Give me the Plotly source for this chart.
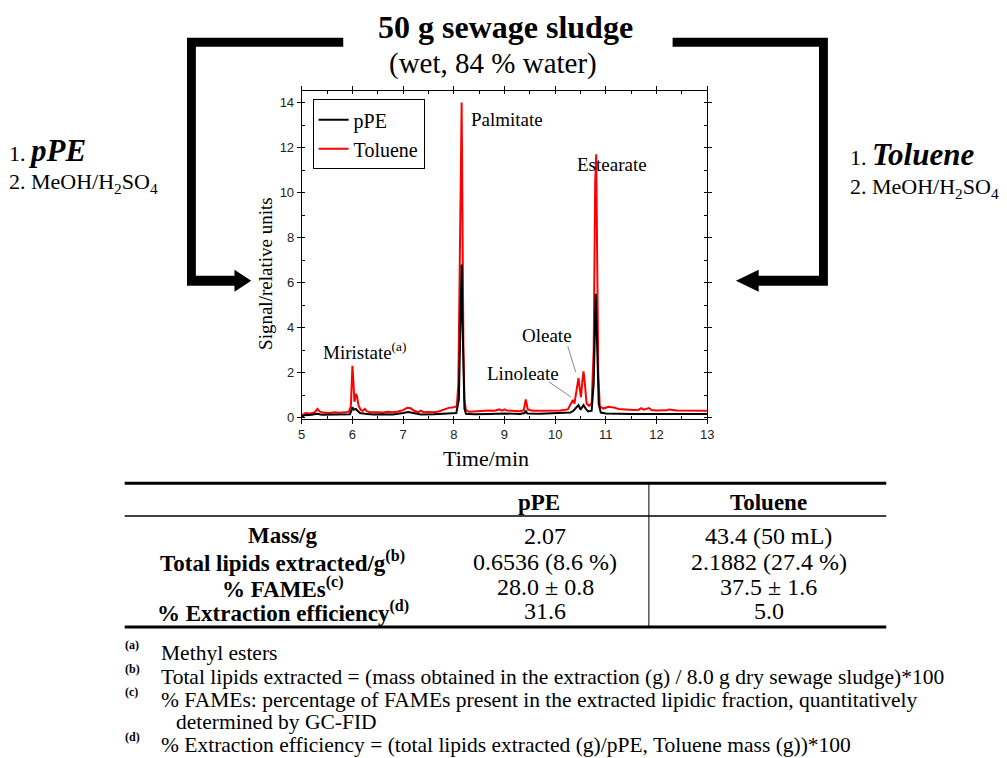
import plotly.graph_objects as go

W, H = 1007, 758

# ---------------- data ----------------
toluene_t = [5.00, 5.03, 5.08, 5.15, 5.22, 5.27, 5.31, 5.35, 5.42, 5.55, 5.65, 5.75, 5.85, 5.93, 5.97,
             6.00, 6.02, 6.04, 6.07, 6.09, 6.12, 6.16, 6.20, 6.25, 6.28, 6.35, 6.5, 6.6, 6.7, 6.8, 6.9,
             7.0, 7.08, 7.15, 7.22, 7.3, 7.35, 7.4, 7.5, 7.6, 7.7, 7.8, 7.9, 8.0, 8.06, 8.09, 8.11,
             8.125, 8.14, 8.155, 8.17, 8.19, 8.21, 8.24, 8.3, 8.4, 8.5, 8.6, 8.7, 8.8, 8.9, 8.95, 9.0,
             9.05, 9.15, 9.3, 9.38, 9.42, 9.46, 9.55, 9.7, 9.9, 10.1, 10.25, 10.3, 10.35, 10.38, 10.43,
             10.46, 10.49, 10.51, 10.54, 10.56, 10.59, 10.62, 10.67, 10.72, 10.76, 10.79, 10.81, 10.83,
             10.85, 10.88, 10.95, 11.05, 11.15, 11.25, 11.4, 11.55, 11.65, 11.7, 11.75, 11.85, 11.9,
             12.0, 12.2, 12.25, 12.4, 12.6, 12.8, 13.0]
toluene_y = [0.05, 0.14, 0.2, 0.18, 0.2, 0.26, 0.38, 0.27, 0.22, 0.2, 0.23, 0.21, 0.23, 0.26, 0.5,
             2.3, 1.6, 0.7, 1.05, 0.95, 0.55, 0.35, 0.3, 0.38, 0.28, 0.24, 0.24, 0.22, 0.26, 0.24, 0.27,
             0.33, 0.43, 0.41, 0.3, 0.24, 0.31, 0.24, 0.25, 0.24, 0.27, 0.36, 0.43, 0.46, 0.5, 1.5, 6.0,
             10.8, 11.0, 14.0, 9.0, 3.0, 0.8, 0.32, 0.26, 0.28, 0.3, 0.3, 0.31, 0.3, 0.36, 0.31, 0.36,
             0.31, 0.3, 0.28, 0.32, 0.8, 0.36, 0.3, 0.3, 0.31, 0.31, 0.36, 0.55, 0.78, 0.62, 1.4,
             1.75, 1.2, 0.9, 1.7, 2.05, 1.4, 0.62, 0.52, 0.62, 3.0, 10.5, 11.7, 8.0,
             2.0, 0.5, 0.4, 0.48, 0.45, 0.38, 0.35, 0.33, 0.35, 0.42, 0.35, 0.42, 0.33,
             0.31, 0.32, 0.36, 0.31, 0.31, 0.29, 0.3]

ppe_t = [5.00, 5.05, 5.2, 5.3, 5.4, 5.6, 5.8, 5.95, 5.98, 6.00, 6.03, 6.07, 6.1, 6.15, 6.25, 6.4, 6.6,
         6.8, 7.0, 7.1, 7.2, 7.35, 7.6, 7.9, 8.05, 8.1, 8.12, 8.14, 8.155, 8.17, 8.19, 8.21, 8.24,
         8.4, 8.7, 9.0, 9.3, 9.4, 9.42, 9.45, 9.7, 10.0, 10.3, 10.36, 10.42, 10.46, 10.5, 10.56,
         10.6, 10.65, 10.72, 10.76, 10.8, 10.83, 10.86, 10.9, 11.0, 11.5, 12.0, 12.5, 13.0]
ppe_y = [0.02, 0.1, 0.12, 0.17, 0.12, 0.12, 0.14, 0.15, 0.3, 0.45, 0.35, 0.38, 0.3, 0.2, 0.17, 0.14, 0.15,
         0.14, 0.2, 0.24, 0.2, 0.14, 0.15, 0.17, 0.2, 0.8, 3.5, 5.8, 6.8, 4.5, 1.5, 0.4, 0.17,
         0.15, 0.16, 0.18, 0.16, 0.2, 0.3, 0.18, 0.17, 0.18, 0.22, 0.3, 0.45, 0.55, 0.35, 0.55,
         0.4, 0.27, 0.3, 1.5, 5.5, 3.0, 0.6, 0.22, 0.18, 0.16, 0.16, 0.15, 0.16]

x_ticks = [5, 6, 7, 8, 9, 10, 11, 12, 13]
y_ticks = [0, 2, 4, 6, 8, 10, 12, 14]

x_title = "Time/min"
y_title = "Signal/relative units"
peak_labels = ["Palmitate", "Estearate", "Miristate<sup>(a)</sup>", "Oleate", "Linoleate"]

table_cols = ["pPE", "Toluene"]
table_rows = ["Mass/g", "Total lipids extracted/g<sup>(b)</sup>", "% FAMEs<sup>(c)</sup>",
              "% Extraction efficiency<sup>(d)</sup>"]
table_ppe = ["2.07", "0.6536 (8.6 %)", "28.0 ± 0.8", "31.6"]
table_tol = ["43.4 (50 mL)", "2.1882 (27.4 %)", "37.5 ± 1.6", "5.0"]

notes = ["(a)", "(b)", "(c)", "(d)"]
note_texts = ["Methyl esters",
              "Total lipids extracted = (mass obtained in the extraction (g) / 8.0 g dry sewage sludge)*100",
              "% FAMEs: percentage of FAMEs present in the extracted lipidic fraction, quantitatively",
              "% Extraction efficiency = (total lipids extracted (g)/pPE, Toluene mass (g))*100"]
note_extra = "determined by GC-FID"

SERIF = "Liberation Serif"
SANS = "Liberation Sans"


def px(x):
    return x / W


def py(y):
    return 1 - y / H


fig = go.Figure()
fig.add_trace(go.Scatter(x=toluene_t, y=toluene_y, mode="lines", name="Toluene",
                         line=dict(color="#ff0000", width=2)))
fig.add_trace(go.Scatter(x=ppe_t, y=ppe_y, mode="lines", name="pPE",
                         line=dict(color="#000000", width=2)))

shapes = []
annotations = []


def text(x, y, s, size, xanchor="center", bold=False, family=SERIF, color="black", angle=0):
    if bold:
        s = "<b>" + s + "</b>"
    annotations.append(dict(x=px(x), y=py(y), xref="paper", yref="paper", text=s, showarrow=False,
                            xanchor=xanchor, yanchor="middle", textangle=angle,
                            font=dict(family=family, size=size, color=color)))


def line(x0, y0, x1, y1, w, color="black"):
    shapes.append(dict(type="line", xref="paper", yref="paper", x0=px(x0), y0=py(y0), x1=px(x1),
                       y1=py(y1), line=dict(color=color, width=w)))


def poly(pts):
    d = "M " + " L ".join(f"{px(a):.5f},{py(b):.5f}" for a, b in pts) + " Z"
    shapes.append(dict(type="path", xref="paper", yref="paper", path=d,
                       fillcolor="black", line=dict(color="black", width=0)))


# brackets / arrows
poly([(185, 38), (343, 38), (343, 47), (194, 47), (194, 278), (233, 278), (233, 272), (250, 283),
      (233, 294), (233, 288), (185, 288)])
poly([(676, 38), (833, 38), (833, 288), (763, 288), (763, 294), (740, 283), (763, 272), (763, 278),
      (824, 278), (824, 47), (676, 47)])

# titles
text(507, 27, "50 g sewage sludge", 32, bold=True)
text(494, 64, "(wet, 84 % water)", 29)
text(3, 152, "1. <b><i><span style='font-size:31px'>pPE</span></i></b>", 22, xanchor="left")
text(3, 184, "2. MeOH/H<sub>2</sub>SO<sub>4</sub>", 22, xanchor="left")
text(853, 156, "1. <b><i><span style='font-size:31px'>Toluene</span></i></b>", 22, xanchor="left")
text(853, 189, "2. MeOH/H<sub>2</sub>SO<sub>4</sub>", 22, xanchor="left")

# axis titles
text(487, 462, x_title, 22)
text(265, 276, y_title, 19, angle=-90)

# peak labels
text(509, 120, peak_labels[0], 19)
text(615, 166, peak_labels[1], 19)
text(364, 354, peak_labels[2], 19)
text(549, 338, peak_labels[3], 19)
text(525, 376, peak_labels[4], 19)
line(551, 385, 573, 400, 1, "#888888")
line(570, 349, 578, 375, 1, "#888888")

# table
line(122, 487, 892, 487, 3)
line(122, 520, 892, 520, 1.5)
line(122, 632, 892, 632, 3)
line(652, 487, 652, 632, 1)
text(541, 507, table_cols[0], 23, bold=True)
text(773, 507, table_cols[1], 23, bold=True)
row_y = [540, 566, 592, 616]
for i, ry in enumerate(row_y):
    text(282, ry, table_rows[i], 23, bold=True)
    text(547, ry, table_ppe[i], 24)
    text(773, ry, table_tol[i], 24)

# notes
note_y = [658, 682, 706, 751]
for i, ny in enumerate(note_y):
    text(120, ny - 8, notes[i], 12, xanchor="left", bold=True)
    text(157, ny, note_texts[i], 21.5, xanchor="left")
text(172, 728, note_extra, 21.5, xanchor="left")

fig.update_layout(
    width=W, height=H, margin=dict(l=0, r=0, t=0, b=0),
    paper_bgcolor="white", plot_bgcolor="white",
    showlegend=True,
    legend=dict(x=px(312), y=py(100), xanchor="left", yanchor="top",
                bordercolor="black", borderwidth=1, bgcolor="white",
                font=dict(family=SERIF, size=20, color="black"), traceorder="reversed",
                tracegroupgap=0, itemwidth=30),
    shapes=shapes, annotations=annotations,
    xaxis=dict(domain=[px(301), px(711)], range=[5, 13], tickvals=x_ticks,
               ticks="outside", ticklen=4, tickwidth=1, tickcolor="black",
               minor=dict(dtick=0.5, tick0=5, ticks="inside", ticklen=3, tickcolor="black"),
               showline=True, linecolor="black", linewidth=1, mirror="ticks", showgrid=False,
               zeroline=False, tickfont=dict(family=SANS, size=13, color="#222")),
    yaxis=dict(domain=[py(422), py(92)], range=[-0.05, 14.5], tickvals=y_ticks,
               ticks="outside", ticklen=4, tickwidth=1, tickcolor="black",
               minor=dict(dtick=1, tick0=0, ticks="inside", ticklen=3, tickcolor="black"),
               showline=True, linecolor="black", linewidth=1, mirror="ticks", showgrid=False,
               zeroline=False, tickfont=dict(family=SANS, size=13, color="#222")),
)

fig.write_html("out.html", config={"displayModeBar": False},
               post_script="document.body.style.margin='0px';")
